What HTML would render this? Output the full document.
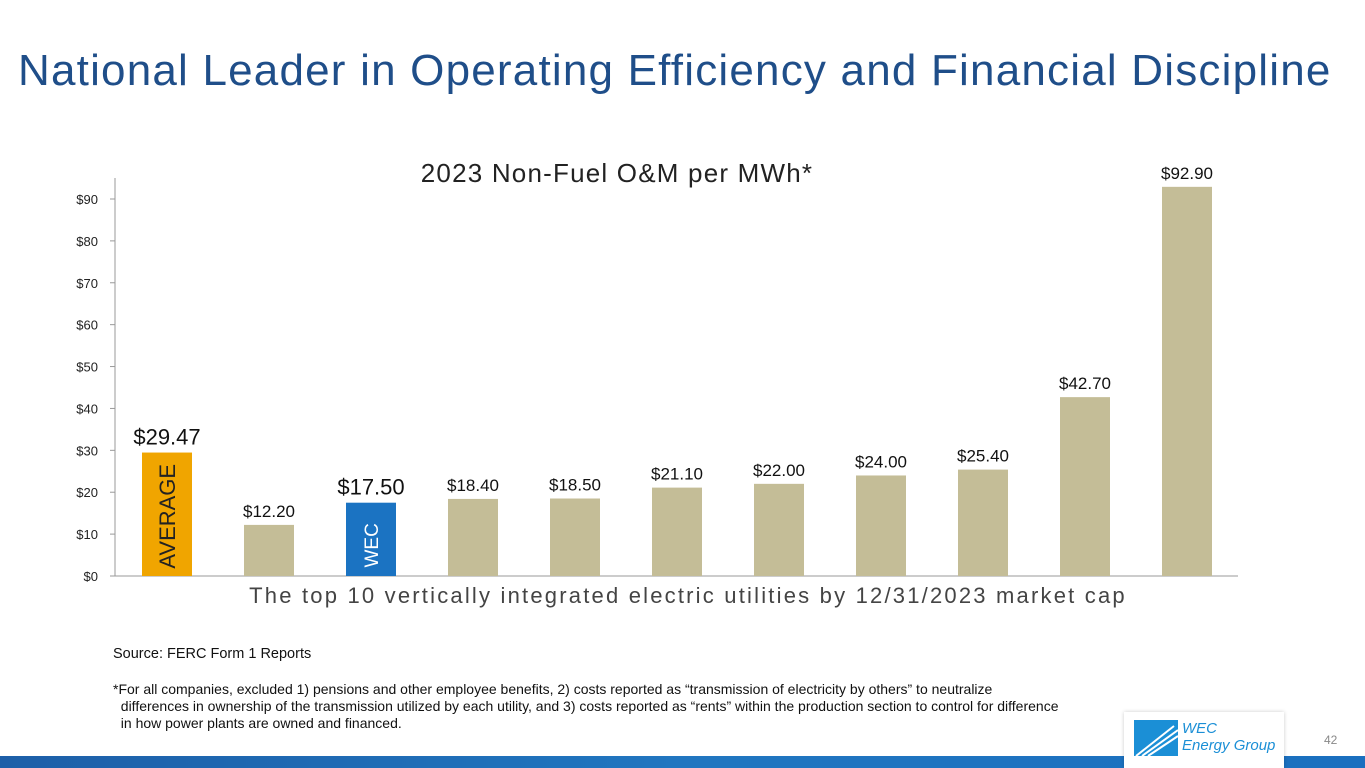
<!DOCTYPE html>
<html><head><meta charset="utf-8"><style>
body{margin:0;width:1365px;height:768px;background:#fff;position:relative;overflow:hidden;font-family:"Liberation Sans",sans-serif}
.t{position:absolute;white-space:nowrap}
</style></head><body>
<div class="t" style="left:18px;top:46px;font-size:44px;color:#1f4e89;letter-spacing:1.2px">National Leader in Operating Efficiency and Financial Discipline</div>
<svg width="1365" height="768" style="position:absolute;left:0;top:0">
<text x="617" y="182" font-size="26" text-anchor="middle" fill="#222" letter-spacing="1.2">2023 Non-Fuel O&amp;M per MWh*</text>
<g id="axis"></g><g id="bars"></g>
<text x="688" y="603" font-size="22" text-anchor="middle" fill="#444" letter-spacing="2.2">The top 10 vertically integrated electric utilities by 12/31/2023 market cap</text>
</svg>
<div class="t" style="left:113px;top:646px;font-size:14.5px;color:#111">Source: FERC Form 1 Reports</div>
<div class="t" style="left:113px;top:681px;font-size:14px;color:#111;line-height:17px">*For all companies, excluded 1) pensions and other employee benefits, 2) costs reported as “transmission of electricity by others” to neutralize<br>&nbsp;&nbsp;differences in ownership of the transmission utilized by each utility, and 3) costs reported as “rents” within the production section to control for difference<br>&nbsp;&nbsp;in how power plants are owned and financed.</div>
<div style="position:absolute;left:0;top:756px;width:1365px;height:12px;background:linear-gradient(90deg,#1d5fa8,#2176c0 50%,#1a6fbf)"></div>
<div style="position:absolute;left:1124px;top:712px;width:160px;height:56px;background:#fff;box-shadow:0 0 4px rgba(0,0,0,0.2)">
<svg width="44" height="38" style="position:absolute;left:10px;top:8px"><rect x="0" y="0" width="44" height="36" fill="#1b8fd6"/><path d="M2 36 L40 6 M8 36 L44 10 M14 36 L44 16" stroke="#fff" stroke-width="2"/></svg>
<div class="t" style="left:58px;top:8px;font-size:15px;font-style:italic;color:#1b8fd6;line-height:17px">WEC<br>Energy Group</div>
</div>
<div class="t" style="left:1324px;top:733px;font-size:12px;color:#888">42</div>
<script>
const categories=["AVERAGE","U1","WEC","U3","U4","U5","U6","U7","U8","U9","U10"];
const values=[29.47,12.20,17.50,18.40,18.50,21.10,22.00,24.00,25.40,42.70,92.90];
const labels=["$29.47","$12.20","$17.50","$18.40","$18.50","$21.10","$22.00","$24.00","$25.40","$42.70","$92.90"];
const ticks=[0,10,20,30,40,50,60,70,80,90];
const NS="http://www.w3.org/2000/svg";
const y=v=>576-v*41.89/10, x=i=>167+i*102;
const ax=document.getElementById('axis'), bg=document.getElementById('bars');
function el(t,a,p){const e=document.createElementNS(NS,t);for(const k in a)e.setAttribute(k,a[k]);p.appendChild(e);return e;}
el('line',{x1:115,y1:178,x2:115,y2:576,stroke:'#999'},ax);
el('line',{x1:115,y1:576,x2:1238,y2:576,stroke:'#999'},ax);
ticks.forEach(t=>{el('line',{x1:110,x2:115,y1:y(t),y2:y(t),stroke:'#999'},ax);
const tx=el('text',{x:98,y:y(t)+5,'font-size':13,'text-anchor':'end',fill:'#222'},ax);tx.textContent='$'+t;

});
values.forEach((v,i)=>{
const col=i==0?'#f0a500':i==2?'#1b73c2':'#c4bd97';
const r=el('rect',{x:x(i)-25,y:y(v),width:50,height:576-y(v),fill:col},bg);


const big=(i==0||i==2);
const l=el('text',{x:x(i),y:y(v)-8,'font-size':big?22:17,'text-anchor':'middle',fill:'#111'},bg);l.textContent=labels[i];


if(big){const c=(576+y(v))/2+(i==0?2:6);const tl=el('text',{x:x(i),y:c+(i==0?8:7),'font-size':i==0?22:19,'text-anchor':'middle',fill:i==0?'#222':'#fff',transform:`rotate(-90 ${x(i)} ${c})`},bg);tl.textContent=i==0?'AVERAGE':'WEC';

}
});
</script>
</body></html>
